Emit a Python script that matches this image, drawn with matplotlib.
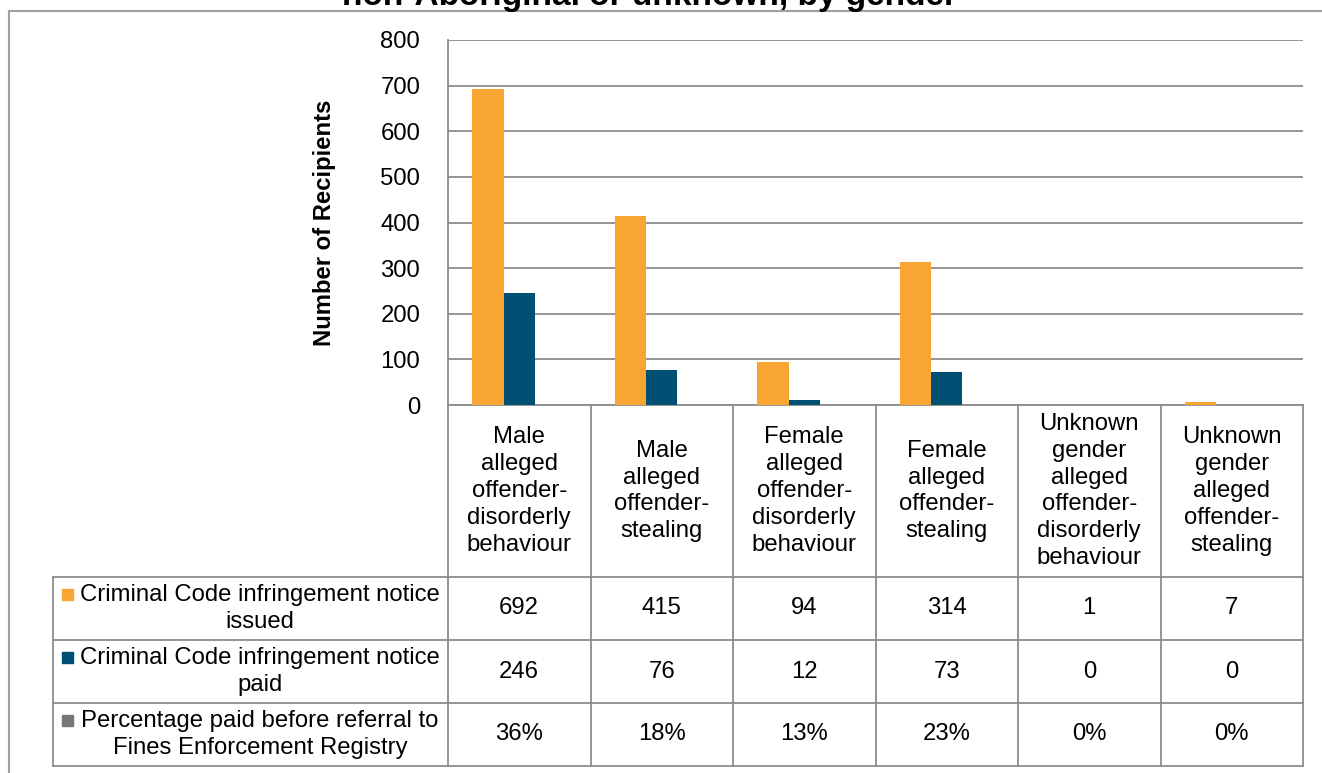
import numpy as np
import matplotlib.pyplot as plt
from matplotlib.patches import Rectangle

plt.rcParams['font.family'] = ['Liberation Sans', 'DejaVu Sans']

# data
categories = [
    "Male\nalleged\noffender-\ndisorderly\nbehaviour",
    "Male\nalleged\noffender-\nstealing",
    "Female\nalleged\noffender-\ndisorderly\nbehaviour",
    "Female\nalleged\noffender-\nstealing",
    "Unknown\ngender\nalleged\noffender-\ndisorderly\nbehaviour",
    "Unknown\ngender\nalleged\noffender-\nstealing",
]
issued = [692, 415, 94, 314, 1, 7]
paid = [246, 76, 12, 73, 0, 0]
pct_paid = [36, 18, 13, 23, 0, 0]
series_names = [
    "Criminal Code infringement notice\nissued",
    "Criminal Code infringement notice\npaid",
    "Percentage paid before referral to\nFines Enforcement Registry",
]
series_colors = ["#F9A533", "#005073", "#767676"]
yticks = [0, 100, 200, 300, 400, 500, 600, 700, 800]

W, H = 1322, 773
fig = plt.figure(figsize=(W / 100, H / 100), dpi=100)

# pixel layout of the plot and table
px_left, px_right = 448, 1303
px_top, px_base = 40, 405
row_edges = [405, 577, 640, 703, 766]
lab_left = 53
grid_col = "#8c8c8c"
fs = 17.2

def fx(x):
    return x / W

def fy(y):
    return 1 - y / H

ax = fig.add_axes([fx(px_left), fy(px_base), fx(px_right - px_left), (px_base - px_top) / H])
n = len(categories)
x = np.arange(n) + 0.5
bw = 0.221
# the percentage series is plotted as a fraction, so it barely shows
ax.bar(x - bw, issued, bw, color=series_colors[0], zorder=3)
ax.bar(x, paid, bw, color=series_colors[1], zorder=3)
ax.bar(x + bw, [p / 100 for p in pct_paid], bw, color=series_colors[2], zorder=3)
ax.set_xlim(0, n)
ax.set_ylim(0, 800)
ax.set_yticks(yticks)
ax.set_yticklabels([str(t) for t in yticks], fontsize=fs)
ax.set_xticks([])
ax.tick_params(axis='y', length=0, pad=20)
ax.yaxis.grid(True, color=grid_col, linewidth=1.3, zorder=0)
for s in ['top', 'right']:
    ax.spines[s].set_visible(False)
for s in ['left', 'bottom']:
    ax.spines[s].set_color(grid_col)
    ax.spines[s].set_linewidth(1.3)

# overlay axes in pixel coordinates for the frame, title and data table
ov = fig.add_axes([0, 0, 1, 1])
ov.set_xlim(0, W)
ov.set_ylim(H, 0)
ov.axis('off')

ov.text(325, (px_top + px_base) / 2, "Number of Recipients", rotation=90,
        ha='center', va='center', fontsize=fs, fontweight='bold')

ov.plot([9, W], [11, 11], color="#a0a0a0", lw=1.5)
ov.plot([9, 9], [11, H], color="#a0a0a0", lw=1.5)
ov.text(650, 5, "non-Aboriginal or unknown, by gender", ha='center', va='baseline',
        fontsize=24, fontweight='bold')

col_w = (px_right - px_left) / n
col_edges = [px_left + i * col_w for i in range(n + 1)]
lw = 1.3
for cx in col_edges:
    ov.plot([cx, cx], [row_edges[0], row_edges[-1]], color=grid_col, lw=lw)
for ry in row_edges[1:]:
    ov.plot([lab_left, px_right], [ry, ry], color=grid_col, lw=lw)
ov.plot([lab_left, lab_left], [row_edges[1], row_edges[-1]], color=grid_col, lw=lw)

for i, cat in enumerate(categories):
    cx = col_edges[i] + col_w / 2
    ov.text(cx, (row_edges[0] + row_edges[1]) / 2, cat, ha='center', va='center',
            fontsize=fs, linespacing=1.28)

rows = [[str(v) for v in issued], [str(v) for v in paid], [f"{p}%" for p in pct_paid]]
lab_cx = 260
for r, (name, vals) in enumerate(zip(series_names, rows)):
    cy = (row_edges[r + 1] + row_edges[r + 2]) / 2
    ov.text(lab_cx, cy, name, ha='center', va='center', fontsize=fs, linespacing=1.28)
    ov.add_patch(Rectangle((62, cy - 20), 11, 11, color=series_colors[r]))
    for i, v in enumerate(vals):
        ov.text(col_edges[i] + col_w / 2, cy, v, ha='center', va='center', fontsize=fs)

fig.savefig("out.png", dpi=100)
